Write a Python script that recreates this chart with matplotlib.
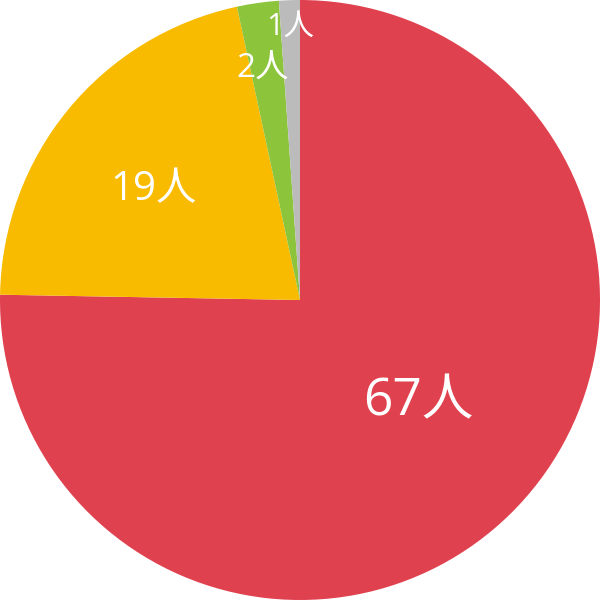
import matplotlib
matplotlib.use("Agg")
import matplotlib.pyplot as plt
import numpy as np

# data
labels = ["67人", "19人", "2人", "1人"]
values = [67, 19, 2, 1]
colors = ["#E0414F", "#F8BB00", "#8CC43C", "#BBBBBB"]
# label placement (radius fraction, angle nudge in degrees, font size)
label_r = [0.52, 0.61, 0.78, 0.91]
label_nudge = [4.7, 2.6, 1.2, 0.0]
label_size = [37, 29, 24, 22]

fig = plt.figure(figsize=(6, 6), dpi=100)
ax = fig.add_axes([0, 0, 1, 1])
wedges, _ = ax.pie(values, colors=colors, startangle=90, counterclock=False,
                   radius=1.0, wedgeprops={'linewidth': 0})

for w, lab, r, dn, fs in zip(wedges, labels, label_r, label_nudge, label_size):
    mid = np.deg2rad((w.theta1 + w.theta2) / 2. + dn)
    ax.text(r * np.cos(mid), r * np.sin(mid), lab, color='white', fontsize=fs,
            ha='center', va='center', family=['Open Sans', 'Noto Sans CJK JP'])

ax.set_xlim(-1, 1)
ax.set_ylim(-1, 1)
ax.set_aspect('equal')
ax.axis('off')

plt.savefig("out.png", dpi=100)
